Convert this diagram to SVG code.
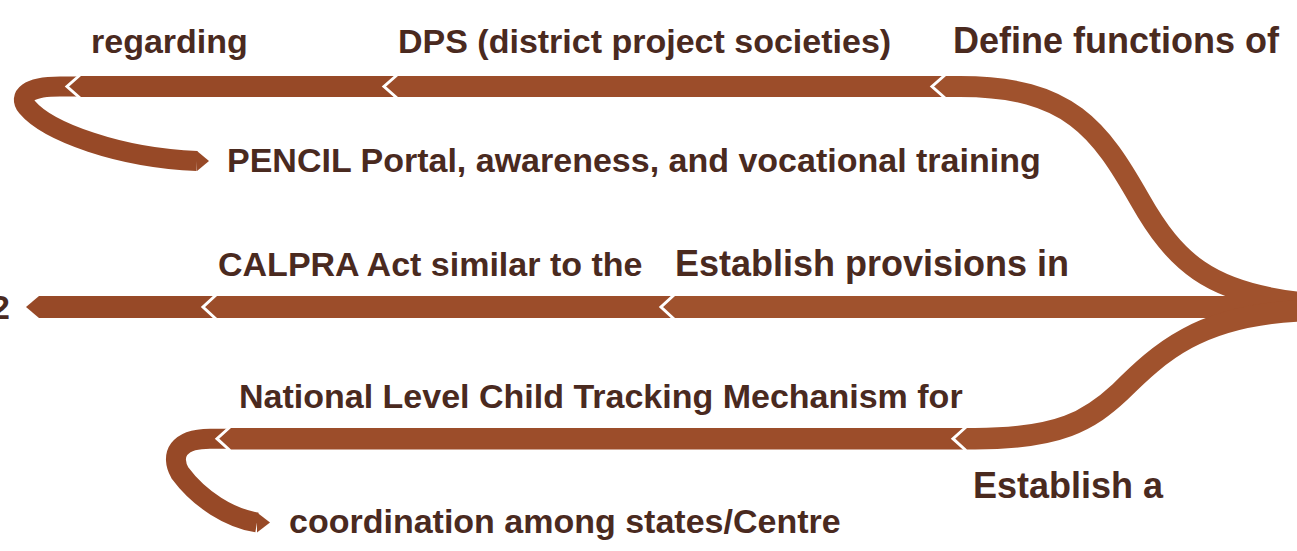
<svg xmlns="http://www.w3.org/2000/svg" width="1297" height="551" viewBox="0 0 1297 551">
<style>
.t{font-family:"Liberation Sans",Arial,sans-serif;font-weight:bold;fill:#4A2A1F;font-size:34px}
.t1{font-size:36px}
.c1{fill:#A0522D}
.c2{fill:#9C4D2A}
.c3{fill:#974927}
.s1{fill:none;stroke:#A0522D}
.s3{fill:none;stroke:#974927}
.gap{fill:none;stroke:#FFFFFF;stroke-width:3;stroke-linejoin:miter}
</style>
<rect width="1297" height="551" fill="#FFFFFF"/>
<g id="connectors">
  <path class="s3" stroke-width="20" d="M 80,86.5 L 60,86.5 C 28,86.5 18,96 27,107 C 48,132 120,158 197,161"/>
  <polygon class="c3" points="197,151 209,161 197,171"/>
  <polygon class="c3" points="80,76 397,76 397,97 80,97 67,86.5"/>
  <polygon class="c2" points="397,76 945,76 945,97 397,97 384,86.5"/>
  <path class="s1" stroke-width="21" d="M 945,86.5 L 960,86.5 C 1070,86.5 1100,130 1140,200 C 1175,262 1210,292 1297,302"/>
  <polygon class="c1" points="946,76 932,86.5 946,97"/>
  <polyline class="gap" points="80,75 67,86.5 80,98"/>
  <polyline class="gap" points="397,75 384,86.5 397,98"/>
  <polyline class="gap" points="945,75 932,86.5 945,98"/>
  <polygon class="c3" points="39,296 216,296 216,318 39,318 26,307"/>
  <polygon class="c2" points="216,296 674,296 674,318 216,318 203,307"/>
  <polygon class="c1" points="674,296 1297,296 1297,318 674,318 661,307"/>
  <polyline class="gap" points="216,295 203,307 216,319"/>
  <polyline class="gap" points="674,295 661,307 674,319"/>
  <path class="s3" stroke-width="20" d="M 230,438.7 L 210,438.7 C 178,438.7 170,455 180,473 C 200,500 230,518 257,522.5"/>
  <polygon class="c3" points="257,512.5 270,522.5 257,532.5"/>
  <polygon class="c2" points="230,428 966,428 966,449.5 230,449.5 217,438.7"/>
  <path class="s1" stroke-width="21.5" d="M 965,438.7 L 975,438.7 C 1060,438.7 1090,420 1120,392 C 1160,352 1200,316 1297,311"/>
  <polygon class="c1" points="967,428 953,438.7 967,449.5"/>
  <polyline class="gap" points="230,427 217,438.7 230,450.5"/>
  <polyline class="gap" points="966,427 953,438.7 966,450.5"/>
</g>
<g id="node-define"><text class="t t1" x="953" y="53">Define functions of</text></g>
<g id="node-dps"><text class="t" x="398" y="53">DPS (district project societies)</text></g>
<g id="node-regarding"><text class="t" x="91" y="53">regarding</text></g>
<g id="node-pencil"><text class="t" x="227" y="172">PENCIL Portal, awareness, and vocational training</text></g>
<g id="node-establish-provisions"><text class="t t1" x="675" y="276">Establish provisions in</text></g>
<g id="node-calpra"><text class="t" x="218" y="276">CALPRA Act similar to the</text></g>
<g id="node-2"><text class="t" x="10" y="319" text-anchor="end">2</text></g>
<g id="node-establish-a"><text class="t t1" x="973" y="498">Establish a</text></g>
<g id="node-national"><text class="t" x="239" y="408">National Level Child Tracking Mechanism for</text></g>
<g id="node-coordination"><text class="t" x="289" y="533">coordination among states/Centre</text></g>
</svg>
